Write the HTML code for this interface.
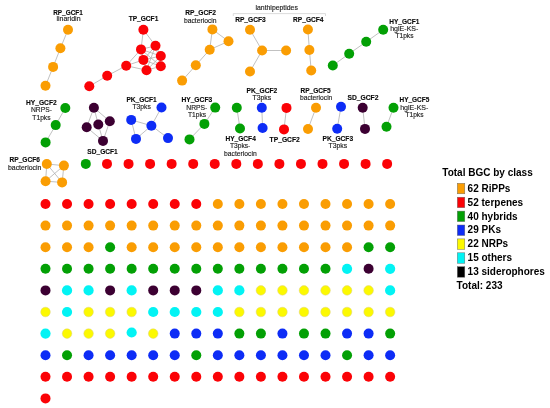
<!DOCTYPE html>
<html><head><meta charset="utf-8">
<style>
html,body{margin:0;padding:0;background:#fff;}
body{width:550px;height:408px;overflow:hidden;}
svg{display:block;will-change:transform;}
text{font-family:"Liberation Sans",sans-serif;}
.b{font-weight:bold;font-size:6.8px;fill:#0a0a0a;stroke:#0a0a0a;stroke-width:0.12px;}
.n{font-size:6.9px;fill:#1a1a1a;stroke:#1a1a1a;stroke-width:0.14px;}
.L{font-weight:bold;font-size:10px;fill:#000;}
</style></head>
<body>
<svg width="550" height="408" viewBox="0 0 550 408">
<g stroke="#acacac" stroke-width="0.75">
<line x1="68.00" y1="29.70" x2="60.40" y2="48.30"/>
<line x1="60.40" y1="48.30" x2="53.10" y2="66.90"/>
<line x1="53.10" y1="66.90" x2="45.50" y2="85.80"/>
<line x1="143.40" y1="29.70" x2="155.50" y2="45.80"/>
<line x1="143.40" y1="29.70" x2="141.00" y2="49.40"/>
<line x1="155.50" y1="45.80" x2="141.00" y2="49.40"/>
<line x1="155.50" y1="45.80" x2="160.80" y2="56.00"/>
<line x1="155.50" y1="45.80" x2="143.40" y2="59.90"/>
<line x1="155.50" y1="45.80" x2="160.80" y2="66.30"/>
<line x1="155.50" y1="45.80" x2="146.50" y2="70.20"/>
<line x1="141.00" y1="49.40" x2="160.80" y2="56.00"/>
<line x1="141.00" y1="49.40" x2="143.40" y2="59.90"/>
<line x1="141.00" y1="49.40" x2="160.80" y2="66.30"/>
<line x1="141.00" y1="49.40" x2="146.50" y2="70.20"/>
<line x1="160.80" y1="56.00" x2="143.40" y2="59.90"/>
<line x1="160.80" y1="56.00" x2="160.80" y2="66.30"/>
<line x1="160.80" y1="56.00" x2="146.50" y2="70.20"/>
<line x1="143.40" y1="59.90" x2="160.80" y2="66.30"/>
<line x1="143.40" y1="59.90" x2="146.50" y2="70.20"/>
<line x1="160.80" y1="66.30" x2="146.50" y2="70.20"/>
<line x1="126.20" y1="65.70" x2="141.00" y2="49.40"/>
<line x1="126.20" y1="65.70" x2="143.40" y2="59.90"/>
<line x1="126.20" y1="65.70" x2="146.50" y2="70.20"/>
<line x1="126.20" y1="65.70" x2="107.20" y2="75.80"/>
<line x1="107.20" y1="75.80" x2="89.30" y2="86.30"/>
<line x1="212.40" y1="29.40" x2="228.50" y2="41.30"/>
<line x1="212.40" y1="29.40" x2="209.70" y2="49.70"/>
<line x1="228.50" y1="41.30" x2="209.70" y2="49.70"/>
<line x1="209.70" y1="49.70" x2="195.80" y2="65.30"/>
<line x1="195.80" y1="65.30" x2="182.10" y2="80.60"/>
<line x1="262.10" y1="50.50" x2="250.00" y2="29.70"/>
<line x1="262.10" y1="50.50" x2="286.10" y2="50.50"/>
<line x1="262.10" y1="50.50" x2="250.00" y2="71.50"/>
<line x1="307.90" y1="29.50" x2="309.40" y2="50.00"/>
<line x1="309.40" y1="50.00" x2="311.20" y2="70.50"/>
<line x1="383.20" y1="29.80" x2="366.20" y2="41.80"/>
<line x1="366.20" y1="41.80" x2="349.20" y2="53.70"/>
<line x1="349.20" y1="53.70" x2="332.80" y2="65.50"/>
<line x1="65.30" y1="108.00" x2="55.70" y2="125.10"/>
<line x1="55.70" y1="125.10" x2="45.60" y2="142.40"/>
<line x1="93.90" y1="107.70" x2="109.80" y2="121.30"/>
<line x1="93.90" y1="107.70" x2="86.70" y2="127.30"/>
<line x1="93.90" y1="107.70" x2="98.30" y2="124.50"/>
<line x1="86.70" y1="127.30" x2="103.00" y2="140.90"/>
<line x1="109.80" y1="121.30" x2="103.00" y2="140.90"/>
<line x1="98.30" y1="124.50" x2="103.00" y2="140.90"/>
<line x1="151.40" y1="125.70" x2="161.50" y2="107.50"/>
<line x1="151.40" y1="125.70" x2="131.20" y2="119.90"/>
<line x1="151.40" y1="125.70" x2="136.00" y2="138.90"/>
<line x1="151.40" y1="125.70" x2="168.00" y2="138.10"/>
<line x1="131.20" y1="119.90" x2="136.00" y2="138.90"/>
<line x1="215.20" y1="107.60" x2="204.40" y2="123.90"/>
<line x1="204.40" y1="123.90" x2="189.50" y2="139.40"/>
<line x1="236.80" y1="107.80" x2="240.00" y2="128.50"/>
<line x1="261.80" y1="107.80" x2="262.60" y2="128.00"/>
<line x1="286.50" y1="107.90" x2="284.00" y2="129.40"/>
<line x1="316.00" y1="107.70" x2="308.00" y2="129.00"/>
<line x1="341.00" y1="106.80" x2="337.20" y2="128.80"/>
<line x1="362.70" y1="107.70" x2="365.00" y2="128.90"/>
<line x1="393.50" y1="107.80" x2="386.50" y2="126.80"/>
<line x1="46.80" y1="164.00" x2="63.90" y2="165.60"/>
<line x1="46.80" y1="164.00" x2="45.60" y2="181.20"/>
<line x1="46.80" y1="164.00" x2="62.10" y2="182.40"/>
<line x1="63.90" y1="165.60" x2="45.60" y2="181.20"/>
<line x1="63.90" y1="165.60" x2="62.10" y2="182.40"/>
<line x1="45.60" y1="181.20" x2="62.10" y2="182.40"/>
</g>
<g>
<circle cx="68.00" cy="29.70" r="5.00" fill="#FA9D03"/>
<circle cx="60.40" cy="48.30" r="5.00" fill="#FA9D03"/>
<circle cx="53.10" cy="66.90" r="5.00" fill="#FA9D03"/>
<circle cx="45.50" cy="85.80" r="5.00" fill="#FA9D03"/>
<circle cx="143.40" cy="29.70" r="5.00" fill="#FB0206"/>
<circle cx="155.50" cy="45.80" r="5.00" fill="#FB0206"/>
<circle cx="141.00" cy="49.40" r="5.00" fill="#FB0206"/>
<circle cx="160.80" cy="56.00" r="5.00" fill="#FB0206"/>
<circle cx="143.40" cy="59.90" r="5.00" fill="#FB0206"/>
<circle cx="160.80" cy="66.30" r="5.00" fill="#FB0206"/>
<circle cx="146.50" cy="70.20" r="5.00" fill="#FB0206"/>
<circle cx="126.20" cy="65.70" r="5.00" fill="#FB0206"/>
<circle cx="107.20" cy="75.80" r="5.00" fill="#FB0206"/>
<circle cx="89.30" cy="86.30" r="5.00" fill="#FB0206"/>
<circle cx="212.40" cy="29.40" r="5.00" fill="#FA9D03"/>
<circle cx="228.50" cy="41.30" r="5.00" fill="#FA9D03"/>
<circle cx="209.70" cy="49.70" r="5.00" fill="#FA9D03"/>
<circle cx="195.80" cy="65.30" r="5.00" fill="#FA9D03"/>
<circle cx="182.10" cy="80.60" r="5.00" fill="#FA9D03"/>
<circle cx="250.00" cy="29.70" r="5.00" fill="#FA9D03"/>
<circle cx="262.10" cy="50.50" r="5.00" fill="#FA9D03"/>
<circle cx="286.10" cy="50.50" r="5.00" fill="#FA9D03"/>
<circle cx="250.00" cy="71.50" r="5.00" fill="#FA9D03"/>
<circle cx="307.90" cy="29.50" r="5.00" fill="#FA9D03"/>
<circle cx="309.40" cy="50.00" r="5.00" fill="#FA9D03"/>
<circle cx="311.20" cy="70.50" r="5.00" fill="#FA9D03"/>
<circle cx="383.20" cy="29.80" r="5.00" fill="#03A005"/>
<circle cx="366.20" cy="41.80" r="5.00" fill="#03A005"/>
<circle cx="349.20" cy="53.70" r="5.00" fill="#03A005"/>
<circle cx="332.80" cy="65.50" r="5.00" fill="#03A005"/>
<circle cx="65.30" cy="108.00" r="5.00" fill="#03A005"/>
<circle cx="55.70" cy="125.10" r="5.00" fill="#03A005"/>
<circle cx="45.60" cy="142.40" r="5.00" fill="#03A005"/>
<circle cx="93.90" cy="107.70" r="5.00" fill="#3C0032"/>
<circle cx="109.80" cy="121.30" r="5.00" fill="#3C0032"/>
<circle cx="98.30" cy="124.50" r="5.00" fill="#3C0032"/>
<circle cx="86.70" cy="127.30" r="5.00" fill="#3C0032"/>
<circle cx="103.00" cy="140.90" r="5.00" fill="#3C0032"/>
<circle cx="161.50" cy="107.50" r="5.00" fill="#0D2CF6"/>
<circle cx="131.20" cy="119.90" r="5.00" fill="#0D2CF6"/>
<circle cx="151.40" cy="125.70" r="5.00" fill="#0D2CF6"/>
<circle cx="136.00" cy="138.90" r="5.00" fill="#0D2CF6"/>
<circle cx="168.00" cy="138.10" r="5.00" fill="#0D2CF6"/>
<circle cx="215.20" cy="107.60" r="5.00" fill="#03A005"/>
<circle cx="204.40" cy="123.90" r="5.00" fill="#03A005"/>
<circle cx="189.50" cy="139.40" r="5.00" fill="#03A005"/>
<circle cx="236.80" cy="107.80" r="5.00" fill="#03A005"/>
<circle cx="240.00" cy="128.50" r="5.00" fill="#03A005"/>
<circle cx="261.80" cy="107.80" r="5.00" fill="#0D2CF6"/>
<circle cx="262.60" cy="128.00" r="5.00" fill="#0D2CF6"/>
<circle cx="286.50" cy="107.90" r="5.00" fill="#FB0206"/>
<circle cx="284.00" cy="129.40" r="5.00" fill="#FB0206"/>
<circle cx="316.00" cy="107.70" r="5.00" fill="#FA9D03"/>
<circle cx="308.00" cy="129.00" r="5.00" fill="#FA9D03"/>
<circle cx="341.00" cy="106.80" r="5.00" fill="#0D2CF6"/>
<circle cx="337.20" cy="128.80" r="5.00" fill="#0D2CF6"/>
<circle cx="362.70" cy="107.70" r="5.00" fill="#3C0032"/>
<circle cx="365.00" cy="128.90" r="5.00" fill="#3C0032"/>
<circle cx="393.50" cy="107.80" r="5.00" fill="#03A005"/>
<circle cx="386.50" cy="126.80" r="5.00" fill="#03A005"/>
<circle cx="46.80" cy="164.00" r="5.00" fill="#FA9D03"/>
<circle cx="63.90" cy="165.60" r="5.00" fill="#FA9D03"/>
<circle cx="45.60" cy="181.20" r="5.00" fill="#FA9D03"/>
<circle cx="62.10" cy="182.40" r="5.00" fill="#FA9D03"/>
<circle cx="85.80" cy="163.90" r="5.00" fill="#03A005"/>
<circle cx="107.00" cy="163.90" r="5.00" fill="#FB0206"/>
<circle cx="128.55" cy="163.90" r="5.00" fill="#FB0206"/>
<circle cx="150.10" cy="163.90" r="5.00" fill="#FB0206"/>
<circle cx="171.65" cy="163.90" r="5.00" fill="#FB0206"/>
<circle cx="193.20" cy="163.90" r="5.00" fill="#FB0206"/>
<circle cx="214.75" cy="163.90" r="5.00" fill="#FB0206"/>
<circle cx="236.30" cy="163.90" r="5.00" fill="#FB0206"/>
<circle cx="257.85" cy="163.90" r="5.00" fill="#FB0206"/>
<circle cx="279.40" cy="163.90" r="5.00" fill="#FB0206"/>
<circle cx="300.95" cy="163.90" r="5.00" fill="#FB0206"/>
<circle cx="322.50" cy="163.90" r="5.00" fill="#FB0206"/>
<circle cx="344.05" cy="163.90" r="5.00" fill="#FB0206"/>
<circle cx="365.60" cy="163.90" r="5.00" fill="#FB0206"/>
<circle cx="387.15" cy="163.90" r="5.00" fill="#FB0206"/>
<circle cx="45.50" cy="204.00" r="5.00" fill="#FB0206"/>
<circle cx="67.04" cy="204.00" r="5.00" fill="#FB0206"/>
<circle cx="88.58" cy="204.00" r="5.00" fill="#FB0206"/>
<circle cx="110.12" cy="204.00" r="5.00" fill="#FB0206"/>
<circle cx="131.66" cy="204.00" r="5.00" fill="#FB0206"/>
<circle cx="153.20" cy="204.00" r="5.00" fill="#FB0206"/>
<circle cx="174.74" cy="204.00" r="5.00" fill="#FB0206"/>
<circle cx="196.28" cy="204.00" r="5.00" fill="#FB0206"/>
<circle cx="217.82" cy="204.00" r="5.00" fill="#FA9D03"/>
<circle cx="239.36" cy="204.00" r="5.00" fill="#FA9D03"/>
<circle cx="260.90" cy="204.00" r="5.00" fill="#FA9D03"/>
<circle cx="282.44" cy="204.00" r="5.00" fill="#FA9D03"/>
<circle cx="303.98" cy="204.00" r="5.00" fill="#FA9D03"/>
<circle cx="325.52" cy="204.00" r="5.00" fill="#FA9D03"/>
<circle cx="347.06" cy="204.00" r="5.00" fill="#FA9D03"/>
<circle cx="368.60" cy="204.00" r="5.00" fill="#FA9D03"/>
<circle cx="390.14" cy="204.00" r="5.00" fill="#FA9D03"/>
<circle cx="45.50" cy="225.60" r="5.00" fill="#FA9D03"/>
<circle cx="67.04" cy="225.60" r="5.00" fill="#FA9D03"/>
<circle cx="88.58" cy="225.60" r="5.00" fill="#FA9D03"/>
<circle cx="110.12" cy="225.60" r="5.00" fill="#FA9D03"/>
<circle cx="131.66" cy="225.60" r="5.00" fill="#FA9D03"/>
<circle cx="153.20" cy="225.60" r="5.00" fill="#FA9D03"/>
<circle cx="174.74" cy="225.60" r="5.00" fill="#FA9D03"/>
<circle cx="196.28" cy="225.60" r="5.00" fill="#FA9D03"/>
<circle cx="217.82" cy="225.60" r="5.00" fill="#FA9D03"/>
<circle cx="239.36" cy="225.60" r="5.00" fill="#FA9D03"/>
<circle cx="260.90" cy="225.60" r="5.00" fill="#FA9D03"/>
<circle cx="282.44" cy="225.60" r="5.00" fill="#FA9D03"/>
<circle cx="303.98" cy="225.60" r="5.00" fill="#FA9D03"/>
<circle cx="325.52" cy="225.60" r="5.00" fill="#FA9D03"/>
<circle cx="347.06" cy="225.60" r="5.00" fill="#FA9D03"/>
<circle cx="368.60" cy="225.60" r="5.00" fill="#FA9D03"/>
<circle cx="390.14" cy="225.60" r="5.00" fill="#FA9D03"/>
<circle cx="45.50" cy="247.20" r="5.00" fill="#FA9D03"/>
<circle cx="67.04" cy="247.20" r="5.00" fill="#FA9D03"/>
<circle cx="88.58" cy="247.20" r="5.00" fill="#FA9D03"/>
<circle cx="110.12" cy="247.20" r="5.00" fill="#03A005"/>
<circle cx="131.66" cy="247.20" r="5.00" fill="#FA9D03"/>
<circle cx="153.20" cy="247.20" r="5.00" fill="#FA9D03"/>
<circle cx="174.74" cy="247.20" r="5.00" fill="#FA9D03"/>
<circle cx="196.28" cy="247.20" r="5.00" fill="#FA9D03"/>
<circle cx="217.82" cy="247.20" r="5.00" fill="#FA9D03"/>
<circle cx="239.36" cy="247.20" r="5.00" fill="#FA9D03"/>
<circle cx="260.90" cy="247.20" r="5.00" fill="#FA9D03"/>
<circle cx="282.44" cy="247.20" r="5.00" fill="#FA9D03"/>
<circle cx="303.98" cy="247.20" r="5.00" fill="#FA9D03"/>
<circle cx="325.52" cy="247.20" r="5.00" fill="#FA9D03"/>
<circle cx="347.06" cy="247.20" r="5.00" fill="#FA9D03"/>
<circle cx="368.60" cy="247.20" r="5.00" fill="#03A005"/>
<circle cx="390.14" cy="247.20" r="5.00" fill="#03A005"/>
<circle cx="45.50" cy="268.80" r="5.00" fill="#03A005"/>
<circle cx="67.04" cy="268.80" r="5.00" fill="#03A005"/>
<circle cx="88.58" cy="268.80" r="5.00" fill="#03A005"/>
<circle cx="110.12" cy="268.80" r="5.00" fill="#03A005"/>
<circle cx="131.66" cy="268.80" r="5.00" fill="#03A005"/>
<circle cx="153.20" cy="268.80" r="5.00" fill="#03A005"/>
<circle cx="174.74" cy="268.80" r="5.00" fill="#03A005"/>
<circle cx="196.28" cy="268.80" r="5.00" fill="#03A005"/>
<circle cx="217.82" cy="268.80" r="5.00" fill="#03A005"/>
<circle cx="239.36" cy="268.80" r="5.00" fill="#03A005"/>
<circle cx="260.90" cy="268.80" r="5.00" fill="#03A005"/>
<circle cx="282.44" cy="268.80" r="5.00" fill="#03A005"/>
<circle cx="303.98" cy="268.80" r="5.00" fill="#03A005"/>
<circle cx="325.52" cy="268.80" r="5.00" fill="#03A005"/>
<circle cx="347.06" cy="268.80" r="5.10" fill="#02F3F4"/>
<circle cx="368.60" cy="268.80" r="5.00" fill="#3C0032"/>
<circle cx="390.14" cy="268.80" r="5.10" fill="#02F3F4"/>
<circle cx="45.50" cy="290.40" r="5.00" fill="#3C0032"/>
<circle cx="67.04" cy="290.40" r="5.10" fill="#02F3F4"/>
<circle cx="88.58" cy="290.40" r="5.10" fill="#02F3F4"/>
<circle cx="110.12" cy="290.40" r="5.00" fill="#3C0032"/>
<circle cx="131.66" cy="290.40" r="5.10" fill="#02F3F4"/>
<circle cx="153.20" cy="290.40" r="5.00" fill="#3C0032"/>
<circle cx="174.74" cy="290.40" r="5.00" fill="#3C0032"/>
<circle cx="196.28" cy="290.40" r="5.00" fill="#3C0032"/>
<circle cx="217.82" cy="290.40" r="5.10" fill="#02F3F4"/>
<circle cx="239.36" cy="290.40" r="5.10" fill="#02F3F4"/>
<circle cx="260.90" cy="290.40" r="4.80" fill="#FCF900" stroke="#dcd080" stroke-width="0.5"/>
<circle cx="282.44" cy="290.40" r="4.80" fill="#FCF900" stroke="#dcd080" stroke-width="0.5"/>
<circle cx="303.98" cy="290.40" r="4.80" fill="#FCF900" stroke="#dcd080" stroke-width="0.5"/>
<circle cx="325.52" cy="290.40" r="4.80" fill="#FCF900" stroke="#dcd080" stroke-width="0.5"/>
<circle cx="347.06" cy="290.40" r="4.80" fill="#FCF900" stroke="#dcd080" stroke-width="0.5"/>
<circle cx="368.60" cy="290.40" r="4.80" fill="#FCF900" stroke="#dcd080" stroke-width="0.5"/>
<circle cx="390.14" cy="290.40" r="5.10" fill="#02F3F4"/>
<circle cx="45.50" cy="312.00" r="4.80" fill="#FCF900" stroke="#dcd080" stroke-width="0.5"/>
<circle cx="67.04" cy="312.00" r="5.10" fill="#02F3F4"/>
<circle cx="88.58" cy="312.00" r="4.80" fill="#FCF900" stroke="#dcd080" stroke-width="0.5"/>
<circle cx="110.12" cy="312.00" r="4.80" fill="#FCF900" stroke="#dcd080" stroke-width="0.5"/>
<circle cx="131.66" cy="312.00" r="4.80" fill="#FCF900" stroke="#dcd080" stroke-width="0.5"/>
<circle cx="153.20" cy="312.00" r="5.10" fill="#02F3F4"/>
<circle cx="174.74" cy="312.00" r="5.10" fill="#02F3F4"/>
<circle cx="196.28" cy="312.00" r="5.10" fill="#02F3F4"/>
<circle cx="217.82" cy="312.00" r="5.10" fill="#02F3F4"/>
<circle cx="239.36" cy="312.00" r="4.80" fill="#FCF900" stroke="#dcd080" stroke-width="0.5"/>
<circle cx="260.90" cy="312.00" r="4.80" fill="#FCF900" stroke="#dcd080" stroke-width="0.5"/>
<circle cx="282.44" cy="312.00" r="4.80" fill="#FCF900" stroke="#dcd080" stroke-width="0.5"/>
<circle cx="303.98" cy="312.00" r="4.80" fill="#FCF900" stroke="#dcd080" stroke-width="0.5"/>
<circle cx="325.52" cy="312.00" r="4.80" fill="#FCF900" stroke="#dcd080" stroke-width="0.5"/>
<circle cx="347.06" cy="312.00" r="4.80" fill="#FCF900" stroke="#dcd080" stroke-width="0.5"/>
<circle cx="368.60" cy="312.00" r="4.80" fill="#FCF900" stroke="#dcd080" stroke-width="0.5"/>
<circle cx="390.14" cy="312.00" r="4.80" fill="#FCF900" stroke="#dcd080" stroke-width="0.5"/>
<circle cx="45.50" cy="333.60" r="5.10" fill="#02F3F4"/>
<circle cx="67.04" cy="333.60" r="4.80" fill="#FCF900" stroke="#dcd080" stroke-width="0.5"/>
<circle cx="88.58" cy="333.60" r="4.80" fill="#FCF900" stroke="#dcd080" stroke-width="0.5"/>
<circle cx="110.12" cy="333.60" r="4.80" fill="#FCF900" stroke="#dcd080" stroke-width="0.5"/>
<circle cx="131.66" cy="332.50" r="5.10" fill="#02F3F4"/>
<circle cx="153.20" cy="333.60" r="4.80" fill="#FCF900" stroke="#dcd080" stroke-width="0.5"/>
<circle cx="174.74" cy="333.60" r="5.00" fill="#0D2CF6"/>
<circle cx="196.28" cy="333.60" r="5.00" fill="#0D2CF6"/>
<circle cx="217.82" cy="333.60" r="5.00" fill="#0D2CF6"/>
<circle cx="239.36" cy="333.60" r="5.00" fill="#03A005"/>
<circle cx="260.90" cy="333.60" r="5.00" fill="#03A005"/>
<circle cx="282.44" cy="333.60" r="5.00" fill="#0D2CF6"/>
<circle cx="303.98" cy="333.60" r="5.00" fill="#03A005"/>
<circle cx="325.52" cy="333.60" r="5.00" fill="#03A005"/>
<circle cx="347.06" cy="333.60" r="5.00" fill="#0D2CF6"/>
<circle cx="368.60" cy="333.60" r="5.00" fill="#0D2CF6"/>
<circle cx="390.14" cy="333.60" r="5.00" fill="#03A005"/>
<circle cx="45.50" cy="355.20" r="5.00" fill="#0D2CF6"/>
<circle cx="67.04" cy="355.20" r="5.00" fill="#03A005"/>
<circle cx="88.58" cy="355.20" r="5.00" fill="#0D2CF6"/>
<circle cx="110.12" cy="355.20" r="5.00" fill="#0D2CF6"/>
<circle cx="131.66" cy="355.20" r="5.00" fill="#0D2CF6"/>
<circle cx="153.20" cy="355.20" r="5.00" fill="#0D2CF6"/>
<circle cx="174.74" cy="355.20" r="5.00" fill="#0D2CF6"/>
<circle cx="196.28" cy="355.20" r="5.00" fill="#03A005"/>
<circle cx="217.82" cy="355.20" r="5.00" fill="#0D2CF6"/>
<circle cx="239.36" cy="355.20" r="5.00" fill="#0D2CF6"/>
<circle cx="260.90" cy="355.20" r="5.00" fill="#0D2CF6"/>
<circle cx="282.44" cy="355.20" r="5.00" fill="#0D2CF6"/>
<circle cx="303.98" cy="355.20" r="5.00" fill="#0D2CF6"/>
<circle cx="325.52" cy="355.20" r="5.00" fill="#0D2CF6"/>
<circle cx="347.06" cy="355.20" r="5.00" fill="#03A005"/>
<circle cx="368.60" cy="355.20" r="5.00" fill="#0D2CF6"/>
<circle cx="390.14" cy="355.20" r="5.00" fill="#0D2CF6"/>
<circle cx="45.50" cy="376.80" r="5.00" fill="#FB0206"/>
<circle cx="67.04" cy="376.80" r="5.00" fill="#FB0206"/>
<circle cx="88.58" cy="376.80" r="5.00" fill="#FB0206"/>
<circle cx="110.12" cy="376.80" r="5.00" fill="#FB0206"/>
<circle cx="131.66" cy="376.80" r="5.00" fill="#FB0206"/>
<circle cx="153.20" cy="376.80" r="5.00" fill="#FB0206"/>
<circle cx="174.74" cy="376.80" r="5.00" fill="#FB0206"/>
<circle cx="196.28" cy="376.80" r="5.00" fill="#FB0206"/>
<circle cx="217.82" cy="376.80" r="5.00" fill="#FB0206"/>
<circle cx="239.36" cy="376.80" r="5.00" fill="#FB0206"/>
<circle cx="260.90" cy="376.80" r="5.00" fill="#FB0206"/>
<circle cx="282.44" cy="376.80" r="5.00" fill="#FB0206"/>
<circle cx="303.98" cy="376.80" r="5.00" fill="#FB0206"/>
<circle cx="325.52" cy="376.80" r="5.00" fill="#FB0206"/>
<circle cx="347.06" cy="376.80" r="5.00" fill="#FB0206"/>
<circle cx="368.60" cy="376.80" r="5.00" fill="#FB0206"/>
<circle cx="390.14" cy="376.80" r="5.00" fill="#FB0206"/>
<circle cx="45.50" cy="398.40" r="5.00" fill="#FB0206"/>
</g>
<g text-anchor="middle">
<text class="b" x="68.00" y="14.50" textLength="29.65" lengthAdjust="spacingAndGlyphs">RP_GCF1</text>
<text class="n" x="68.53" y="21.40" textLength="24.06" lengthAdjust="spacingAndGlyphs">linaridin</text>
<text class="b" x="143.48" y="21.10" textLength="29.69" lengthAdjust="spacingAndGlyphs">TP_GCF1</text>
<text class="b" x="200.65" y="15.20" textLength="30.68" lengthAdjust="spacingAndGlyphs">RP_GCF2</text>
<text class="n" x="200.29" y="22.50" textLength="32.69" lengthAdjust="spacingAndGlyphs">bacteriocin</text>
<text class="n" x="276.68" y="9.80" textLength="42.41" lengthAdjust="spacingAndGlyphs">lanthipeptides</text>
<text class="b" x="250.47" y="21.80" textLength="30.63" lengthAdjust="spacingAndGlyphs">RP_GCF3</text>
<text class="b" x="308.32" y="21.80" textLength="30.46" lengthAdjust="spacingAndGlyphs">RP_GCF4</text>
<text class="b" x="404.29" y="23.80" textLength="30.09" lengthAdjust="spacingAndGlyphs">HY_GCF1</text>
<text class="n" x="404.29" y="31.10" textLength="28.17" lengthAdjust="spacingAndGlyphs">hglE-KS-</text>
<text class="n" x="404.48" y="38.40" textLength="17.97" lengthAdjust="spacingAndGlyphs">T1pks</text>
<text class="b" x="41.34" y="104.90" textLength="30.55" lengthAdjust="spacingAndGlyphs">HY_GCF2</text>
<text class="n" x="41.49" y="112.20" textLength="20.95" lengthAdjust="spacingAndGlyphs">NRPS-</text>
<text class="n" x="41.44" y="119.50" textLength="18.15" lengthAdjust="spacingAndGlyphs">T1pks</text>
<text class="b" x="102.56" y="153.50" textLength="30.41" lengthAdjust="spacingAndGlyphs">SD_GCF1</text>
<text class="b" x="141.64" y="101.90" textLength="30.26" lengthAdjust="spacingAndGlyphs">PK_GCF1</text>
<text class="n" x="141.62" y="108.90" textLength="18.37" lengthAdjust="spacingAndGlyphs">T3pks</text>
<text class="b" x="196.80" y="102.00" textLength="30.82" lengthAdjust="spacingAndGlyphs">HY_GCF3</text>
<text class="n" x="196.84" y="109.60" textLength="21.10" lengthAdjust="spacingAndGlyphs">NRPS-</text>
<text class="n" x="197.04" y="116.50" textLength="18.01" lengthAdjust="spacingAndGlyphs">T1pks</text>
<text class="b" x="261.87" y="93.30" textLength="30.74" lengthAdjust="spacingAndGlyphs">PK_GCF2</text>
<text class="n" x="261.84" y="100.10" textLength="18.65" lengthAdjust="spacingAndGlyphs">T3pks</text>
<text class="b" x="240.61" y="140.90" textLength="30.40" lengthAdjust="spacingAndGlyphs">HY_GCF4</text>
<text class="n" x="240.13" y="147.80" textLength="20.38" lengthAdjust="spacingAndGlyphs">T3pks-</text>
<text class="n" x="240.40" y="155.50" textLength="32.58" lengthAdjust="spacingAndGlyphs">bacteriocin</text>
<text class="b" x="284.70" y="142.20" textLength="30.17" lengthAdjust="spacingAndGlyphs">TP_GCF2</text>
<text class="b" x="315.60" y="93.10" textLength="30.20" lengthAdjust="spacingAndGlyphs">RP_GCF5</text>
<text class="n" x="316.15" y="99.60" textLength="32.41" lengthAdjust="spacingAndGlyphs">bacteriocin</text>
<text class="b" x="337.81" y="141.10" textLength="30.63" lengthAdjust="spacingAndGlyphs">PK_GCF3</text>
<text class="n" x="337.84" y="147.60" textLength="18.65" lengthAdjust="spacingAndGlyphs">T3pks</text>
<text class="b" x="362.94" y="99.60" textLength="31.07" lengthAdjust="spacingAndGlyphs">SD_GCF2</text>
<text class="b" x="414.37" y="102.10" textLength="29.77" lengthAdjust="spacingAndGlyphs">HY_GCF5</text>
<text class="n" x="414.29" y="109.60" textLength="28.17" lengthAdjust="spacingAndGlyphs">hglE-KS-</text>
<text class="n" x="414.48" y="117.30" textLength="17.97" lengthAdjust="spacingAndGlyphs">T1pks</text>
<text class="b" x="24.67" y="162.20" textLength="30.33" lengthAdjust="spacingAndGlyphs">RP_GCF6</text>
<text class="n" x="24.68" y="169.50" textLength="33.48" lengthAdjust="spacingAndGlyphs">bacteriocin</text>
<path d="M233.3 16 V13.6 H325.5 V16" fill="none" stroke="#cdcdcd" stroke-width="0.7"/>
</g>
<g>
<text class="L" x="442.3" y="176.3">Total BGC by class</text>
<rect x="457.3" y="183.30" width="7.5" height="10.5" fill="#FA9D03" stroke="#666" stroke-width="0.45"/>
<text class="L" x="467.6" y="191.80">62 RiPPs</text>
<rect x="457.3" y="197.20" width="7.5" height="10.5" fill="#FB0206" stroke="#666" stroke-width="0.45"/>
<text class="L" x="467.6" y="205.68">52 terpenes</text>
<rect x="457.3" y="211.10" width="7.5" height="10.5" fill="#03A005" stroke="#666" stroke-width="0.45"/>
<text class="L" x="467.6" y="219.56">40 hybrids</text>
<rect x="457.3" y="225.00" width="7.5" height="10.5" fill="#0D2CF6" stroke="#666" stroke-width="0.45"/>
<text class="L" x="467.6" y="233.44">29 PKs</text>
<rect x="457.3" y="238.90" width="7.5" height="10.5" fill="#FCF900" stroke="#666" stroke-width="0.45"/>
<text class="L" x="467.6" y="247.32">22 NRPs</text>
<rect x="457.3" y="252.80" width="7.5" height="10.5" fill="#02F3F4" stroke="#666" stroke-width="0.45"/>
<text class="L" x="467.6" y="261.20">15 others</text>
<rect x="457.3" y="266.70" width="7.5" height="10.5" fill="#000000" stroke="#666" stroke-width="0.45"/>
<text class="L" x="467.6" y="275.08">13 siderophores</text>
<text class="L" x="456.6" y="289.3">Total: 233</text>
</g>
</svg>
</body></html>
